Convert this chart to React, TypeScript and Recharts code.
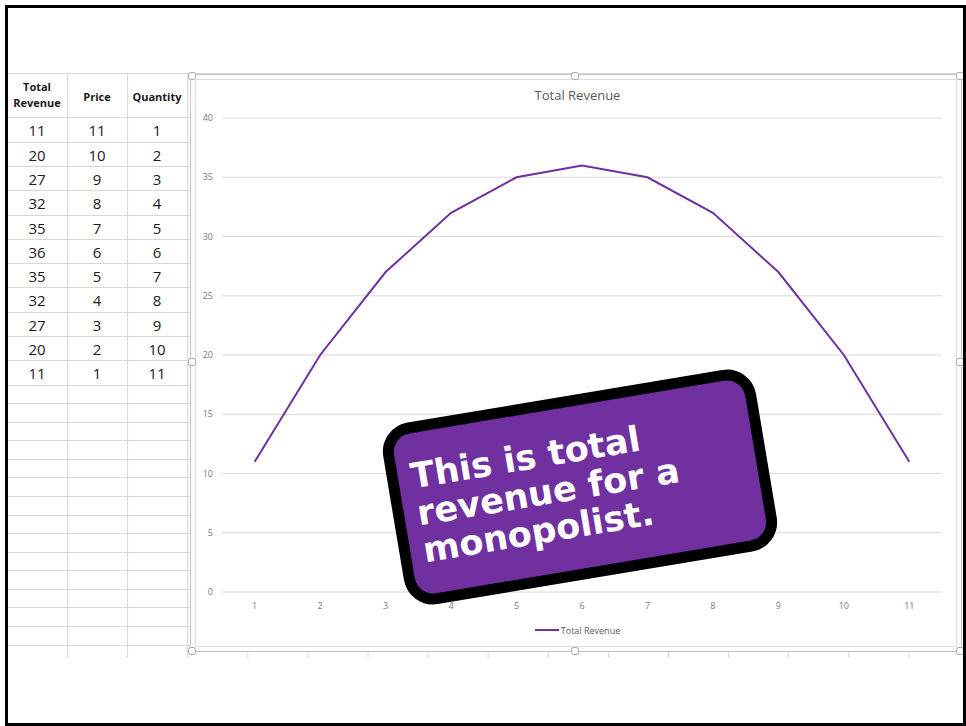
import React from 'react';
import { LineChart, Line, XAxis, YAxis, CartesianGrid, Legend } from 'recharts';

// ---- data ----
const quantities = [1, 2, 3, 4, 5, 6, 7, 8, 9, 10, 11];
const prices = [11, 10, 9, 8, 7, 6, 5, 4, 3, 2, 1];
const totalRevenue = [11, 20, 27, 32, 35, 36, 35, 32, 27, 20, 11];
const yTicks = [0, 5, 10, 15, 20, 25, 30, 35, 40];
const tableHeaders = [['Total', 'Revenue'], ['Price'], ['Quantity']];
const chartTitle = 'Total Revenue';
const seriesName = 'Total Revenue';
const calloutLines = ['This is total', 'revenue for a', 'monopolist.'];

const data = quantities.map((q, i) => ({
  quantity: q,
  price: prices[i],
  totalRevenue: totalRevenue[i],
}));

const tableRows = totalRevenue.map((tr, i) => [tr, prices[i], quantities[i]]);

const PURPLE = '#7030A0';
const GRID = '#d6d6d6';

const SheetGrid = () => {
  const lines: React.ReactNode[] = [];
  lines.push(<line key="top" x1={8} x2={963} y1={73.5} y2={73.5} stroke={GRID} />);
  const colXs: number[] = [];
  for (let x = 67.5; x < 962; x += 60.1) colXs.push(x);
  colXs.forEach((x, i) => lines.push(<line key={'v' + i} x1={x} x2={x} y1={73} y2={658} stroke={GRID} />));
  const rowYs: number[] = [];
  for (let k = 0; k <= 11; k++) rowYs.push(117.3 + 24.3 * k);
  for (let k = 1; k <= 14; k++) rowYs.push(384.6 + 18.57 * k);
  rowYs.forEach((y, i) => lines.push(<line key={'h' + i} x1={8} x2={190} y1={Math.round(y) + 0.5} y2={Math.round(y) + 0.5} stroke={GRID} />));
  return (
    <svg width={966} height={726} style={{ position: 'absolute', left: 0, top: 0 }}>
      {lines}
    </svg>
  );
};

const colCenters = [37, 97, 157];

const SheetTable = () => (
  <div style={{ position: 'absolute', left: 0, top: 0, width: 200, height: 726, fontFamily: '"Open Sans", "Noto Sans", sans-serif', color: '#1a1a1a' }}>
    {tableHeaders.map((h, ci) => (
      <div key={'hd' + ci} style={{ position: 'absolute', left: colCenters[ci] - 30, width: 60, top: h.length > 1 ? 79 : 89, textAlign: 'center', fontSize: 11, fontWeight: 700, lineHeight: '16px' }}>
        {h.map((t, k) => <div key={k}>{t}</div>)}
      </div>
    ))}
    {tableRows.map((row, ri) =>
      row.map((v, ci) => (
        <div key={ri + '-' + ci} style={{ position: 'absolute', left: colCenters[ci] - 30, width: 60, top: 117.3 + 24.3 * ri + 2, height: 22, lineHeight: '22px', textAlign: 'center', fontSize: 15 }}>
          {v}
        </div>
      ))
    )}
  </div>
);

const handles = [
  [192, 76], [575, 76], [960, 76],
  [192, 362], [960, 362],
  [192, 651], [575, 651], [960, 651],
];

const LegendContent = (props: any) => {
  const items = props.payload || [];
  return (
    <div style={{ display: 'flex', justifyContent: 'center', alignItems: 'center', height: 12, fontFamily: '"Open Sans", sans-serif', fontSize: 9, color: '#595959' }}>
      {items.map((it: any, i: number) => (
        <div key={i} style={{ display: 'flex', alignItems: 'center' }}>
          <div style={{ width: 24, height: 2, background: it.color, marginRight: 2 }} />
          <span>{it.value}</span>
        </div>
      ))}
    </div>
  );
};

const Callout = () => {
  const cx = 580;
  const cy = 487;
  const w = 378;
  const h = 184;
  const bw = 11;
  return (
    <svg width={966} height={726} style={{ position: 'absolute', left: 0, top: 0, pointerEvents: 'none' }}>
      <g transform={`rotate(-9.5 ${cx} ${cy})`}>
        <rect x={cx - w / 2 + bw / 2} y={cy - h / 2 + bw / 2} width={w - bw} height={h - bw} rx={24} ry={24} fill={PURPLE} stroke="#000" strokeWidth={bw} />
        {calloutLines.map((t, i) => (
          <text key={i} x={cx - 165} y={cy - 26 + 37.5 * i} fill="#fff" fontFamily='"DejaVu Sans", Verdana, sans-serif' fontWeight={700} fontSize={35}>
            {t}
          </text>
        ))}
      </g>
    </svg>
  );
};

export default function App() {
  return (
    <div style={{ position: 'absolute', left: 0, top: 0, width: 966, height: 726, background: '#fff', overflow: 'hidden' }}>
      <SheetGrid />
      <SheetTable />
      <div style={{ position: 'absolute', left: 190, top: 74, width: 772, height: 578, boxSizing: 'border-box', border: '1px solid #c4c4c4', background: '#fff' }} />
      <div style={{ position: 'absolute', left: 195, top: 79, width: 762, height: 568, boxSizing: 'border-box', border: '1px solid #dedede', background: '#fff' }} />
      <div style={{ position: 'absolute', left: 193, top: 86, width: 769, textAlign: 'center', fontFamily: '"Open Sans", sans-serif', fontSize: 13, color: '#595959' }}>
        {chartTitle}
      </div>
      <div style={{ position: 'absolute', left: 193, top: 77 }}>
        <LineChart width={769} height={574} data={data} margin={{ top: 41, right: 20, bottom: 0, left: 0 }}>
          <CartesianGrid vertical={false} stroke="#d9d9d9" />
          <XAxis
            dataKey="quantity"
            type="category"
            height={59}
            axisLine={false}
            tickLine={false}
            tickSize={0}
            tickMargin={11}
            padding={{ left: 32.7, right: 32.7 }}
            tick={{ fontSize: 9, fill: '#7a7a7a', fontFamily: '"Open Sans", sans-serif' }}
          />
          <YAxis
            domain={[0, 40]}
            ticks={yTicks}
            width={29}
            axisLine={false}
            tickLine={false}
            tickSize={0}
            tickMargin={9}
            tick={{ fontSize: 9, fill: '#7a7a7a', fontFamily: '"Open Sans", sans-serif' }}
          />
          <Legend
            verticalAlign="middle"
            align="center"
            layout="horizontal"
            wrapperStyle={{ top: 547, left: 0, width: 769 }}
            content={LegendContent}
          />
          <Line
            type="linear"
            dataKey="totalRevenue"
            name={seriesName}
            stroke={PURPLE}
            strokeWidth={2}
            dot={false}
            isAnimationActive={false}
          />
        </LineChart>
      </div>
      <svg width={966} height={726} style={{ position: 'absolute', left: 0, top: 0, pointerEvents: 'none' }}>
        {handles.map(([x, y], i) => (
          <rect key={i} x={x - 3.5} y={y - 3.5} width={7} height={7} rx={2} fill="#fff" stroke="#a8a8a8" />
        ))}
      </svg>
      <Callout />
      <div style={{ position: 'absolute', left: 5, top: 5, width: 961, height: 721, boxSizing: 'border-box', border: '3px solid #000' }} />
    </div>
  );
}
